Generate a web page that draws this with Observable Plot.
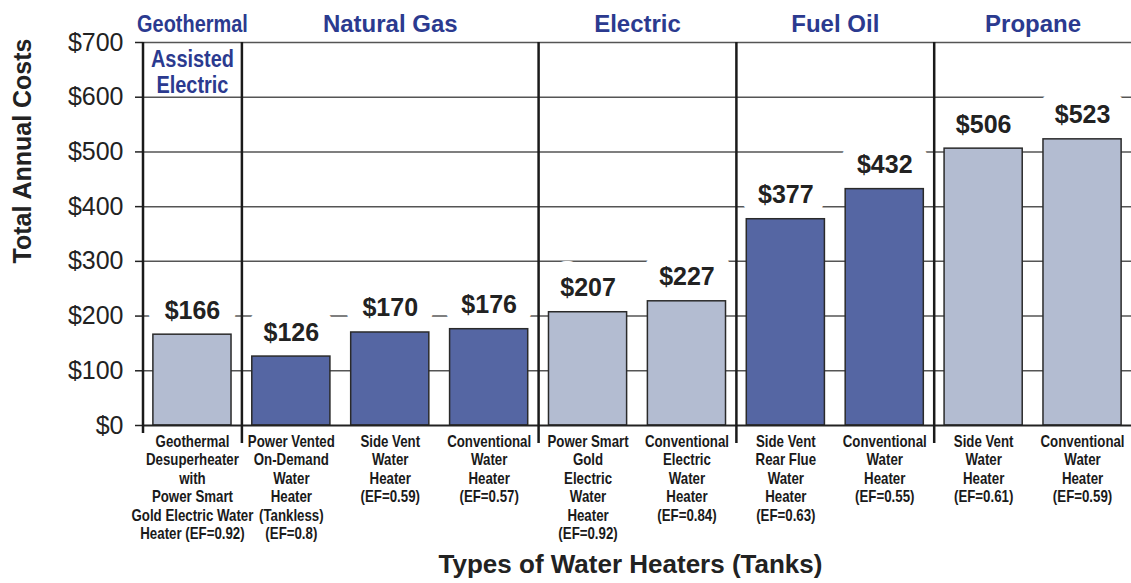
<!DOCTYPE html>
<html><head><meta charset="utf-8">
<script src="https://cdn.jsdelivr.net/npm/d3@7"></script>
<script src="https://cdn.jsdelivr.net/npm/@observablehq/plot@0.6"></script>
<style>body{margin:0;background:#fff;}</style>
</head><body><div id="chart"></div>
<script>
// ---- data ----
const groups = ["Geothermal", "Natural Gas", "Electric", "Fuel Oil", "Propane"];
const groupSubtitles = ["Assisted\nElectric", "", "", "", ""];
const groupColors = ["#b3bcd1", "#5566a3", "#b3bcd1", "#5566a3", "#b3bcd1"];
const heaterLabels = [
  "Geothermal\nDesuperheater\nwith\nPower Smart\nGold Electric Water\nHeater (EF=0.92)",
  "Power Vented\nOn-Demand\nWater\nHeater\n(Tankless)\n(EF=0.8)",
  "Side Vent\nWater\nHeater\n(EF=0.59)",
  "Conventional\nWater\nHeater\n(EF=0.57)",
  "Power Smart\nGold\nElectric\nWater\nHeater\n(EF=0.92)",
  "Conventional\nElectric\nWater\nHeater\n(EF=0.84)",
  "Side Vent\nRear Flue\nWater\nHeater\n(EF=0.63)",
  "Conventional\nWater\nHeater\n(EF=0.55)",
  "Side Vent\nWater\nHeater\n(EF=0.61)",
  "Conventional\nWater\nHeater\n(EF=0.59)"
];
const heaterGroup = [0, 1, 1, 1, 2, 2, 3, 3, 4, 4];
const annualCosts = [166, 126, 170, 176, 207, 227, 377, 432, 506, 523];
const yTicks = [0, 100, 200, 300, 400, 500, 600, 700];
const yTitle = "Total Annual Costs";
const xTitle = "Types of Water Heaters (Tanks)";

// ---- layout ----
const W = 1131, H = 583, mL = 143, mR = 0, mT = 42, mB = 158;
const padIn = 0.21, padOut = 0.1;
const step = (W - mL - mR) / (heaterLabels.length - padIn + 2 * padOut);
const FONT = "'Liberation Sans', Arial, Helvetica, sans-serif";
const NARROW_K = 0.83;

const data = annualCosts.map((v, i) => ({
  i, cost: v, label: heaterLabels[i], group: heaterGroup[i], color: groupColors[heaterGroup[i]]
}));

const groupInfo = groups.map((g, gi) => {
  const members = data.filter(d => d.group === gi);
  const n = members.length;
  return {
    gi, name: g, sub: groupSubtitles[gi], first: members[0].i,
    anchor: members[Math.floor((n - 1) / 2)].i,
    dx: n % 2 === 0 ? step / 2 : 0
  };
});

const headerMarks = groupInfo.flatMap(g => {
  const cls = g.gi === 0 ? "narrow" : "hdr";
  const m = [Plot.text([g], {
    x: "anchor", text: "name", dx: g.dx, frameAnchor: "top", dy: -18, className: cls,
    lineAnchor: "middle", fontSize: 24, fontWeight: "bold", fill: "#2b3a8f", fontFamily: FONT
  })];
  if (g.sub) m.push(Plot.text([g], {
    x: "anchor", text: "sub", dx: g.dx, frameAnchor: "top", dy: 5, className: cls,
    lineAnchor: "top", lineHeight: 1.12, fontSize: 24, fontWeight: "bold", fill: "#2b3a8f", fontFamily: FONT
  }));
  return m;
});

const chart = Plot.plot({
  width: W, height: H,
  marginLeft: mL, marginRight: mR, marginTop: mT, marginBottom: mB,
  style: {fontFamily: FONT, background: "#fff", overflow: "visible"},
  x: {type: "band", domain: data.map(d => d.i), paddingInner: padIn, paddingOuter: padOut, round: false, axis: null},
  y: {domain: [0, 700], axis: null},
  color: {type: "identity"},
  marks: [
    Plot.ruleY(yTicks.filter(t => t > 0), {stroke: "#555", strokeWidth: 1.5}),
    Plot.text(data, {
      x: "i", y: "cost", text: d => "$" + d.cost, lineAnchor: "bottom", dy: -16,
      fontSize: 25, fontWeight: "bold", fill: "#222", stroke: "white", strokeWidth: 32, fontFamily: FONT
    }),
    Plot.barY(data, {x: "i", y: "cost", fill: "color", stroke: "#2a2a2a", strokeWidth: 1.5}),
    Plot.ruleY([0], {stroke: "#222", strokeWidth: 2}),
    Plot.axisY({
      ticks: yTicks, tickFormat: d => "$" + d, tickSize: 8, tickPadding: 12,
      fontSize: 25, label: null, anchor: "left", color: "#222", strokeWidth: 1.5
    }),
    Plot.ruleX(groupInfo.filter(g => g.gi > 0).map(g => g.first), {
      x: d => d, dx: -step / 2, y1: 700, y2: 0, insetBottom: -18, stroke: "#1a1a1a", strokeWidth: 2.5
    }),
    Plot.ruleX([groupInfo[0].first], {
      x: d => d, dx: -step / 2, y1: 700, y2: 0, insetBottom: -8, stroke: "#1a1a1a", strokeWidth: 2.5
    }),
    Plot.text(data, {
      x: "i", text: "label", frameAnchor: "bottom", lineAnchor: "top", dy: 8, className: "narrow",
      lineHeight: 1.16, fontSize: 16, fontWeight: "bold", fill: "#1a1a1a", fontFamily: FONT
    }),
    ...headerMarks,
    Plot.text([yTitle], {
      text: d => d, frameAnchor: "left", dx: -121, dy: -83, rotate: -90,
      textAnchor: "middle", lineAnchor: "middle", fontSize: 25, fontWeight: "bold", fill: "#222", fontFamily: FONT
    }),
    Plot.text([xTitle], {
      text: d => d, frameAnchor: "bottom", dx: -7, dy: 139,
      textAnchor: "middle", lineAnchor: "middle", fontSize: 26, fontWeight: "bold", fill: "#222", fontFamily: FONT
    })
  ]
});

// condensed (narrow) lettering: scale the glyphs horizontally around each text's anchor
chart.querySelectorAll("g.narrow text").forEach(t => {
  const tr = t.getAttribute("transform") || "";
  const x = parseFloat(t.getAttribute("x")) || 0;
  t.removeAttribute("x");
  t.setAttribute("transform", `${tr} translate(${x},0) scale(${NARROW_K},1)`);
});

document.getElementById("chart").appendChild(chart);
</script>
</body></html>
